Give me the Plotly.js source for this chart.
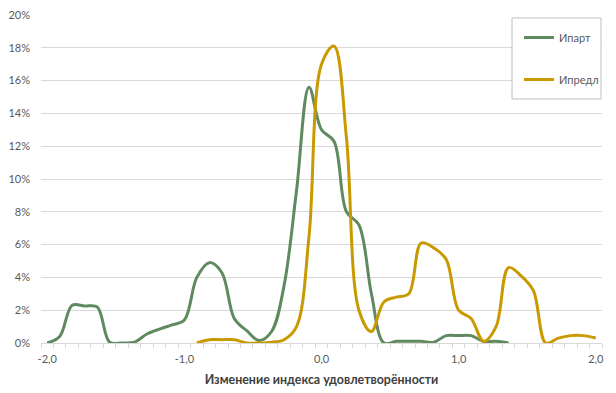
<!DOCTYPE html>
<html>
<head>
<meta charset="utf-8">
<script src="https://cdn.plot.ly/plotly-3.0.1.min.js"></script>
<style>html,body{margin:0;padding:0;background:#fff;}#chart{width:616px;height:393px;}</style>
</head>
<body>
<div id="chart"></div>
<script>
// Category values of the index change (x axis)
const xValues = [-2.000, -1.909, -1.818, -1.727, -1.636, -1.545, -1.455, -1.364, -1.273, -1.182,
  -1.091, -1.000, -0.909, -0.818, -0.727, -0.636, -0.545, -0.455, -0.364, -0.273,
  -0.182, -0.091, 0.000, 0.091, 0.182, 0.273, 0.364, 0.455, 0.545, 0.636,
  0.727, 0.818, 0.909, 1.000, 1.091, 1.182, 1.273, 1.364, 1.455, 1.545,
  1.636, 1.727, 1.818, 1.909, 2.000];

// Share, %
const iPart = [0.0, 0.4, 2.3, 2.25, 2.2, 0.05, 0.0, 0.05, 0.55, 0.85,
  1.1, 1.4, 4.0, 4.9, 4.3, 1.5, 0.75, 0.15, 0.7, 3.5,
  9.3, 15.6, 13.0, 12.3, 8.0, 7.2, 3.0, 0.0, 0.1, 0.1,
  0.1, 0.05, 0.45, 0.45, 0.45, 0.1, 0.1, 0.0, null, null,
  null, null, null, null, null];

const iPred = [null, null, null, null, null, null, null, null, null, null,
  null, null, 0.0, 0.2, 0.2, 0.2, 0.0, 0.0, 0.05, 0.2,
  1.0, 6.5, 17.0, 18.1, 12.5, 2.0, 0.7, 2.5, 2.8, 3.0,
  6.1, 5.8, 5.1, 2.0, 1.5, 0.1, 1.0, 4.6, 4.1, 3.2,
  0.0, 0.3, 0.45, 0.45, 0.3];

const seriesNames = ['Ипарт', 'Ипредл'];
const xTickVals = [-2, -1, 0, 1, 2];
const xTickText = ['-2,0', '-1,0', '0,0', '1,0', '2,0'];
const yTickVals = [0, 2, 4, 6, 8, 10, 12, 14, 16, 18, 20];
const yTickText = ['0%', '2%', '4%', '6%', '8%', '10%', '12%', '14%', '16%', '18%', '20%'];

const step = 1 / 11;
const minorVals = [];
for (let i = 0; i <= 45; i++) minorVals.push(-2 - step / 2 + i * step);

const FONT = 'Lato, Open Sans, sans-serif';

const traces = [
  {x: xValues, y: iPart, name: seriesNames[0], type: 'scatter', mode: 'lines',
   line: {color: '#5f8a5f', width: 3, shape: 'spline', smoothing: 1}, legendgroup: 'a', hoverinfo: 'skip'},
  {x: xValues, y: iPred, name: seriesNames[1], type: 'scatter', mode: 'lines',
   line: {color: '#c99a00', width: 3, shape: 'spline', smoothing: 1}, legendgroup: 'b', hoverinfo: 'skip'}
];

const layout = {
  width: 616, height: 393,
  margin: {l: 41, r: 14, t: 15, b: 50},
  paper_bgcolor: '#ffffff', plot_bgcolor: '#ffffff',
  font: {family: FONT, size: 11, color: '#595959'},
  showlegend: true,
  legend: {
    x: 0.852, y: 0.9756, xanchor: 'left', yanchor: 'top',
    borderwidth: 0, bgcolor: 'rgba(0,0,0,0)',
    font: {family: FONT, size: 11, color: '#595959'},
    tracegroupgap: 23, traceorder: 'grouped', itemwidth: 30
  },
  shapes: [{
    type: 'rect', xref: 'paper', yref: 'paper',
    x0: 0.8396, x1: 0.9982, y0: 0.7439, y1: 0.9909,
    line: {color: '#bfbfbf', width: 1}, fillcolor: '#ffffff', layer: 'above'
  }],
  xaxis: {
    range: [-2 - step / 2, 2 + step / 2],
    tickmode: 'array', tickvals: xTickVals, ticktext: xTickText,
    ticks: '', showgrid: false, zeroline: false,
    showline: true, linecolor: '#d9d9d9', linewidth: 1,
    minor: {tickmode: 'array', tickvals: minorVals, ticks: 'outside', ticklen: 4, tickcolor: '#d9d9d9', tickwidth: 1, showgrid: false},
    ticklabelstandoff: 6,
    tickfont: {family: FONT, size: 11, color: '#595959'},
    title: {text: 'Изменение индекса удовлетворённости', font: {family: FONT, size: 12.4, color: '#404040', weight: 'bold'}, standoff: 11},
    fixedrange: true
  },
  yaxis: {
    range: [0, 20],
    tickmode: 'array', tickvals: yTickVals, ticktext: yTickText,
    ticks: '', showgrid: true, gridcolor: '#d9d9d9', gridwidth: 1,
    zeroline: false, showline: false,
    ticklabelstandoff: 10,
    tickfont: {family: FONT, size: 11, color: '#595959'},
    fixedrange: true
  }
};

Plotly.newPlot('chart', traces, layout, {staticPlot: true, displayModeBar: false});
</script>
</body>
</html>
